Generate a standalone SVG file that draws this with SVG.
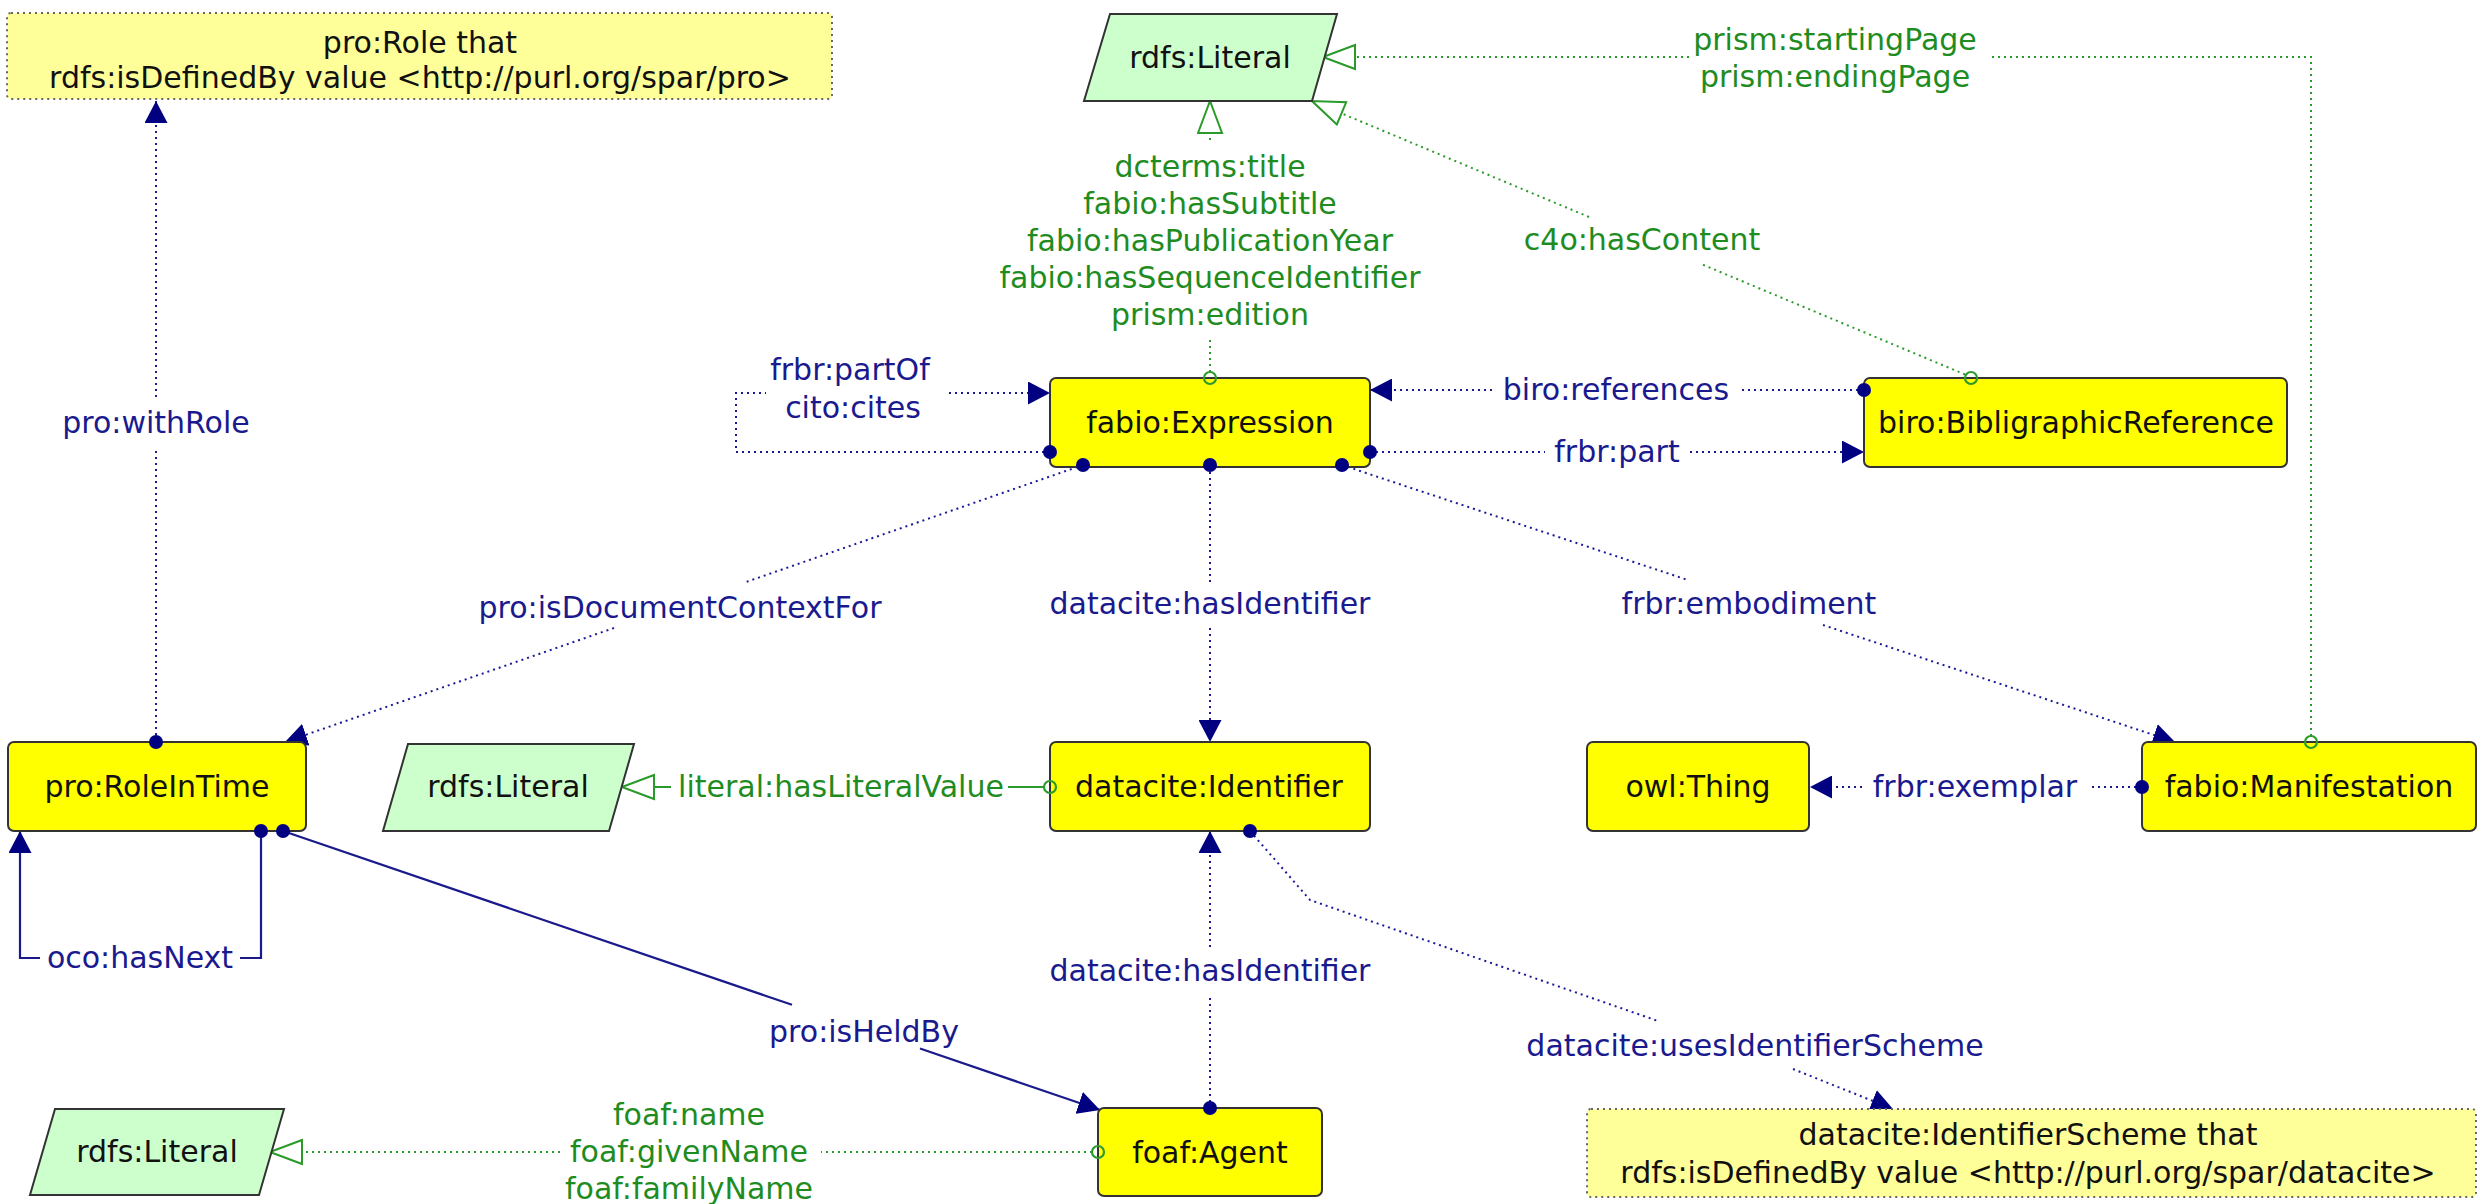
<svg xmlns="http://www.w3.org/2000/svg" width="2486" height="1204" viewBox="0 0 2486 1204">
<style>
text{font-family:"DejaVu Sans","Liberation Sans",sans-serif;font-size:30px;text-anchor:middle}
.t{fill:#111}
.tn{fill:#1a1a8e}
.tg{fill:#1f8c1f}
.box{fill:#ffff00;stroke:#333;stroke-width:2}
.lit{fill:#ccffcc;stroke:#333;stroke-width:2}
.note{fill:#ffff99;stroke:#666;stroke-width:2;stroke-dasharray:2 4}
.dn{fill:none;stroke:#1a1a99;stroke-width:2;stroke-dasharray:2 4}
.sn{fill:none;stroke:#1a1a8c;stroke-width:2.2}
.dg{fill:none;stroke:#2a9a2a;stroke-width:2;stroke-dasharray:2 4}
.sg{fill:none;stroke:#2a9a2a;stroke-width:2.2}
.dot{fill:#000080}
.oc{fill:none;stroke:#2a9a2a;stroke-width:2.2}
</style>
<defs>
<marker id="arr" markerUnits="userSpaceOnUse" markerWidth="22" markerHeight="23" viewBox="0 0 22 23" refX="22" refY="11.5" orient="auto"><path d="M0,0 L22,11.5 L0,23 z" fill="#000080"/></marker>
<marker id="tri" markerUnits="userSpaceOnUse" markerWidth="35" markerHeight="28" viewBox="-1.5 -1.5 35 28" refX="32" refY="12" orient="auto"><path d="M0,0 L32,12 L0,24 z" fill="#fff" stroke="#2a9a2a" stroke-width="2"/></marker>
</defs>
<rect width="2486" height="1204" fill="#fff"/>

<g id="connectors">
<!-- pro:withRole -->
<path class="dn" d="M156,735 V450"/><path class="dn" d="M156,397 V101" marker-end="url(#arr)"/>
<text class="tn" x="156" y="433">pro:withRole</text>
<!-- pro:isDocumentContextFor -->
<path class="dn" d="M1083,465 L746,582"/><path class="dn" d="M614,628 L285,742" marker-end="url(#arr)"/>
<text class="tn" x="680" y="618">pro:isDocumentContextFor</text>
<!-- datacite:hasIdentifier (expression) -->
<path class="dn" d="M1210,472 V582"/><path class="dn" d="M1210,628 V742" marker-end="url(#arr)"/>
<text class="tn" x="1210" y="614">datacite:hasIdentifier</text>
<!-- frbr:embodiment -->
<path class="dn" d="M1342,465 L1689,580.4"/><path class="dn" d="M1823,625 L2175,742" marker-end="url(#arr)"/>
<text class="tn" x="1749" y="614">frbr:embodiment</text>
<!-- biro:references -->
<path class="dn" d="M1864,390 H1740"/><path class="dn" d="M1492,390 H1370" marker-end="url(#arr)"/>
<text class="tn" x="1616" y="400">biro:references</text>
<!-- frbr:part -->
<path class="dn" d="M1370,452 H1545"/><path class="dn" d="M1690,452 H1864" marker-end="url(#arr)"/>
<text class="tn" x="1617" y="462">frbr:part</text>
<!-- frbr:partOf / cito:cites loop -->
<path class="dn" d="M1050,452 H736 V393 H766"/><path class="dn" d="M949,393 H1050" marker-end="url(#arr)"/>
<text class="tn" x="850" y="380">frbr:partOf</text>
<text class="tn" x="853" y="418">cito:cites</text>
<!-- oco:hasNext -->
<path class="sn" d="M261,831 V958 H240"/><path class="sn" d="M40,958 H20 V831" marker-end="url(#arr)"/>
<text class="tn" x="140" y="968">oco:hasNext</text>
<!-- pro:isHeldBy -->
<path class="sn" d="M283,831 L792,1004.8"/><path class="sn" d="M920,1048.5 L1100,1110" marker-end="url(#arr)"/>
<text class="tn" x="864" y="1042">pro:isHeldBy</text>
<!-- datacite:hasIdentifier (agent) -->
<path class="dn" d="M1210,1108 V994"/><path class="dn" d="M1210,947 V831" marker-end="url(#arr)"/>
<text class="tn" x="1210" y="981">datacite:hasIdentifier</text>
<!-- datacite:usesIdentifierScheme -->
<path class="dn" d="M1250,831 L1310,900 L1658,1021"/><path class="dn" d="M1793,1069 L1893,1109" marker-end="url(#arr)"/>
<text class="tn" x="1755" y="1056">datacite:usesIdentifierScheme</text>
<!-- frbr:exemplar -->
<path class="dn" d="M2142,787 H2089"/><path class="dn" d="M1862,787 H1810" marker-end="url(#arr)"/>
<text class="tn" x="1975" y="797">frbr:exemplar</text>
<!-- literal:hasLiteralValue -->
<path class="sg" d="M1044,787 H1008"/><path class="sg" d="M671,787 H622" marker-end="url(#tri)"/>
<text class="tg" x="841" y="797">literal:hasLiteralValue</text>
<!-- foaf names -->
<path class="dg" d="M1092,1152 H821"/><path class="dg" d="M560,1152 H270" marker-end="url(#tri)"/>
<text class="tg" x="689" y="1125">foaf:name</text>
<text class="tg" x="689" y="1162">foaf:givenName</text>
<text class="tg" x="689" y="1199">foaf:familyName</text>
<!-- expression data properties -->
<path class="dg" d="M1210,372 V340"/><path class="dg" d="M1210,140 V101" marker-end="url(#tri)"/>
<text class="tg" x="1210" y="177">dcterms:title</text>
<text class="tg" x="1210" y="214">fabio:hasSubtitle</text>
<text class="tg" x="1210" y="251">fabio:hasPublicationYear</text>
<text class="tg" x="1210" y="288">fabio:hasSequenceIdentifier</text>
<text class="tg" x="1210" y="325">prism:edition</text>
<!-- c4o:hasContent -->
<path class="dg" d="M1965,374.5 L1700,263.5"/><path class="dg" d="M1589,217 L1312,101" marker-end="url(#tri)"/>
<text class="tg" x="1642" y="250">c4o:hasContent</text>
<!-- prism pages -->
<path class="dg" d="M2311,736 V57 H1988"/><path class="dg" d="M1689,57 H1323" marker-end="url(#tri)"/>
<text class="tg" x="1835" y="50">prism:startingPage</text>
<text class="tg" x="1835" y="87">prism:endingPage</text>
</g>

<g id="note-role">
<rect class="note" x="7" y="13" width="825" height="86" rx="4"/>
<text class="t" x="420" y="53">pro:Role that</text>
<text class="t" x="420" y="88">rdfs:isDefinedBy value &lt;http://purl.org/spar/pro&gt;</text>
</g>
<g id="literal-top">
<polygon class="lit" points="1110,14 1337,14 1312,101 1084,101"/>
<text class="t" x="1210" y="68">rdfs:Literal</text>
</g>
<g id="expression">
<rect class="box" x="1050" y="378" width="320" height="89" rx="6"/>
<text class="t" x="1210" y="433">fabio:Expression</text>
</g>
<g id="biblioref">
<rect class="box" x="1864" y="378" width="423" height="89" rx="6"/>
<text class="t" x="2076" y="433">biro:BibligraphicReference</text>
</g>
<g id="roleintime">
<rect class="box" x="8" y="742" width="298" height="89" rx="6"/>
<text class="t" x="157" y="797">pro:RoleInTime</text>
</g>
<g id="literal-mid">
<polygon class="lit" points="408,744 634,744 609,831 383,831"/>
<text class="t" x="508" y="797">rdfs:Literal</text>
</g>
<g id="identifier">
<rect class="box" x="1050" y="742" width="320" height="89" rx="6"/>
<text class="t" x="1209" y="797">datacite:Identifier</text>
</g>
<g id="owlthing">
<rect class="box" x="1587" y="742" width="222" height="89" rx="6"/>
<text class="t" x="1698" y="797">owl:Thing</text>
</g>
<g id="manifestation">
<rect class="box" x="2142" y="742" width="334" height="89" rx="6"/>
<text class="t" x="2309" y="797">fabio:Manifestation</text>
</g>
<g id="literal-bottom">
<polygon class="lit" points="55,1109 284,1109 259,1195 30,1195"/>
<text class="t" x="157" y="1162">rdfs:Literal</text>
</g>
<g id="agent">
<rect class="box" x="1098" y="1108" width="224" height="88" rx="6"/>
<text class="t" x="1210" y="1163">foaf:Agent</text>
</g>
<g id="note-scheme">
<rect class="note" x="1587" y="1109" width="889" height="88" rx="4"/>
<text class="t" x="2028" y="1145">datacite:IdentifierScheme that</text>
<text class="t" x="2028" y="1183">rdfs:isDefinedBy value &lt;http://purl.org/spar/datacite&gt;</text>
</g>

<g id="ends">
<circle class="dot" cx="156" cy="742" r="7"/>
<circle class="dot" cx="1083" cy="465" r="7"/>
<circle class="dot" cx="1210" cy="465" r="7"/>
<circle class="dot" cx="1342" cy="465" r="7"/>
<circle class="dot" cx="1050" cy="452" r="7"/>
<circle class="dot" cx="1370" cy="452" r="7"/>
<circle class="dot" cx="1864" cy="390" r="7"/>
<circle class="dot" cx="261" cy="831" r="7"/>
<circle class="dot" cx="283" cy="831" r="7"/>
<circle class="dot" cx="1210" cy="1108" r="7"/>
<circle class="dot" cx="1250" cy="831" r="7"/>
<circle class="dot" cx="2142" cy="787" r="7"/>
<circle class="oc" cx="1050" cy="787" r="6"/>
<circle class="oc" cx="1098" cy="1152" r="6"/>
<circle class="oc" cx="1210" cy="378" r="6"/>
<circle class="oc" cx="1971" cy="378" r="6"/>
<circle class="oc" cx="2311" cy="742" r="6"/>
</g>
</svg>
